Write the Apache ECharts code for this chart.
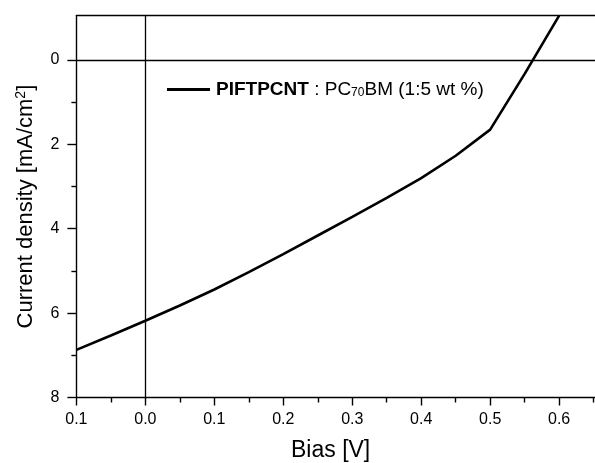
<!DOCTYPE html>
<html>
<head>
<meta charset="utf-8">
<script src="https://cdn.jsdelivr.net/npm/echarts@6/dist/echarts.min.js"></script>
<style>html,body{margin:0;padding:0;background:#fff}#c{width:595px;height:463px}</style>
</head>
<body>
<div id="c"></div>
<script>
const biasV = [-0.1, -0.05, 0, 0.05, 0.1, 0.15, 0.2, 0.25, 0.3, 0.35, 0.4, 0.45, 0.5, 0.55, 0.6];
const currentDensity = [6.87, 6.53, 6.18, 5.82, 5.44, 5.03, 4.6, 4.16, 3.72, 3.27, 2.8, 2.27, 1.65, 0.33, -1.05];
const xMajorTicks = [-0.1, 0, 0.1, 0.2, 0.3, 0.4, 0.5, 0.6];
const xMinorTicks = [-0.05, 0.05, 0.15, 0.25, 0.35, 0.45, 0.55, 0.65];
const yMajorTicks = [0, 2, 4, 6, 8];
const yMinorTicks = [1, 3, 5, 7];
const seriesName = 'PIFTPCNT';
const font = 'Liberation Sans';

const X_MIN = -0.1, X_MAX = 0.652, Y_MIN = -1.05, Y_MAX = 8;
const axisLineStyle = {color: '#000', width: 1.4};

const chart = echarts.init(document.getElementById('c'), null, {renderer: 'canvas'});
chart.setOption({
  backgroundColor: '#fff',
  animation: false,
  grid: {left: 76.4, right: 0, top: 15.7, bottom: 65.5, show: false, outerBoundsMode: 'none'},
  legend: {
    left: 167, top: 80, itemWidth: 43, itemHeight: 3, itemGap: 0, padding: 0,
    icon: 'rect',
    data: [{name: seriesName, itemStyle: {color: '#000'}}],
    formatter: () => '{b|PIFTPCNT} : PC{s|70}BM (1:5 wt %)',
    textStyle: {
      fontFamily: font, fontSize: 19, color: '#000', padding: [0, 0, 0, 1],
      rich: {
        b: {fontFamily: font, fontSize: 19, fontWeight: 'bold', color: '#000'},
        s: {fontFamily: font, fontSize: 12, color: '#000', padding: [7, 0, 0, 0]}
      }
    }
  },
  xAxis: [{
    type: 'value', min: X_MIN, max: X_MAX, position: 'bottom',
    axisLine: {show: true, onZero: false, lineStyle: axisLineStyle},
    axisTick: {show: true, inside: false, length: 8, lineStyle: axisLineStyle, customValues: xMajorTicks},
    splitLine: {show: false},
    axisLabel: {fontFamily: font, fontSize: 16, color: '#000', margin: 14, customValues: xMajorTicks,
      formatter: v => Math.abs(v).toFixed(1)}
  }, {
    type: 'value', min: X_MIN, max: X_MAX, position: 'bottom',
    axisLine: {show: false, onZero: false},
    axisTick: {show: true, inside: false, length: 5, lineStyle: axisLineStyle, customValues: xMinorTicks},
    splitLine: {show: false},
    axisLabel: {show: false}
  }, {
    type: 'value', min: X_MIN, max: X_MAX, position: 'top',
    axisLine: {show: true, onZero: false, lineStyle: axisLineStyle},
    axisTick: {show: false}, splitLine: {show: false}, axisLabel: {show: false}
  }],
  yAxis: [{
    type: 'value', inverse: true, min: Y_MIN, max: Y_MAX, position: 'left',
    axisLine: {show: true, onZero: false, lineStyle: axisLineStyle},
    axisTick: {show: true, inside: false, length: 9, lineStyle: axisLineStyle, customValues: yMajorTicks},
    splitLine: {show: false},
    axisLabel: {fontFamily: font, fontSize: 16, color: '#000', margin: 17, customValues: yMajorTicks,
      formatter: v => String(Math.round(v))},
    name: 'Current density [mA/cm{sup|2}]',
    nameLocation: 'middle', nameRotate: 90, nameGap: 38,
    nameTextStyle: {fontFamily: font, fontSize: 22, color: '#000',
      rich: {sup: {fontFamily: font, fontSize: 14, color: '#000', padding: [0, 0, 10, 0]}}}
  }, {
    type: 'value', inverse: true, min: Y_MIN, max: Y_MAX, position: 'left',
    axisLine: {show: false, onZero: false},
    axisTick: {show: true, inside: false, length: 5, lineStyle: axisLineStyle, customValues: yMinorTicks},
    splitLine: {show: false},
    axisLabel: {show: false}
  }],
  graphic: [{
    type: 'text', left: 291, top: 439,
    style: {text: 'Bias [V]', fontFamily: font, fontSize: 23, fill: '#000'}
  }],
  series: [{
    name: seriesName, type: 'line', xAxisIndex: 0, yAxisIndex: 0,
    data: biasV.map((x, i) => [x, currentDensity[i]]),
    showSymbol: false, symbol: 'none', smooth: false, clip: true,
    lineStyle: {color: '#000', width: 2.6}, itemStyle: {color: '#000'},
    markLine: {
      silent: true, symbol: 'none', label: {show: false},
      lineStyle: {color: '#000', width: 1.3, type: 'solid'},
      data: [{xAxis: 0}, {yAxis: 0}]
    }
  }]
});
</script>
</body>
</html>
